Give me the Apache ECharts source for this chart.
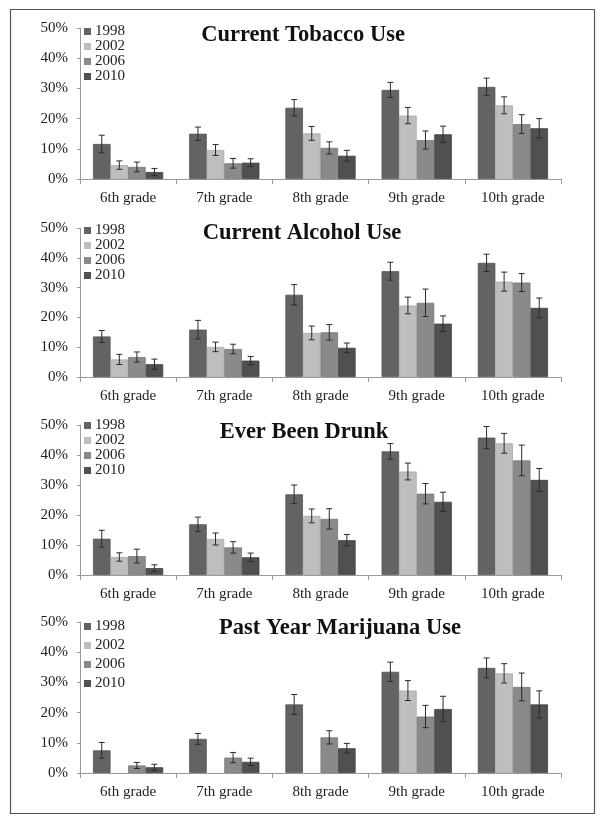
<!DOCTYPE html>
<html>
<head>
<meta charset="utf-8">
<script src="https://cdn.jsdelivr.net/npm/echarts@6/dist/echarts.min.js"></script>
<style>
html,body{margin:0;padding:0;background:#fff;}
#chart{width:601px;height:821px;}
</style>
</head>
<body>
<div id="chart"></div>
<script>
const categories = ['6th grade', '7th grade', '8th grade', '9th grade', '10th grade'];
const years = ['1998', '2002', '2006', '2010'];
const yTicks = [0, 10, 20, 30, 40, 50];
const panelTitles = ['Current Tobacco Use', 'Current Alcohol Use', 'Ever Been Drunk', 'Past Year Marijuana Use'];

const tobacco1998 = [11.6, 15.0, 23.6, 29.5, 30.5];
const tobacco2002 = [4.6, 9.6, 15.1, 21.0, 24.4];
const tobacco2006 = [4.0, 5.2, 10.3, 12.9, 18.2];
const tobacco2010 = [2.3, 5.4, 7.7, 14.8, 16.8];
const tobaccoErr1998 = [2.9, 2.2, 2.7, 2.5, 2.9];
const tobaccoErr2002 = [1.4, 1.8, 2.3, 2.7, 2.8];
const tobaccoErr2006 = [1.6, 1.6, 2.0, 3.0, 3.1];
const tobaccoErr2010 = [1.2, 1.3, 1.8, 2.7, 3.2];

const alcohol1998 = [13.6, 15.9, 27.6, 35.5, 38.3];
const alcohol2002 = [5.9, 10.1, 14.8, 24.0, 32.0];
const alcohol2006 = [6.7, 9.4, 15.0, 24.9, 31.7];
const alcohol2010 = [4.3, 5.5, 9.8, 17.9, 23.2];
const alcoholErr1998 = [2.0, 3.1, 3.4, 3.0, 2.9];
const alcoholErr2002 = [1.7, 1.6, 2.3, 2.8, 3.2];
const alcoholErr2006 = [1.7, 1.6, 2.6, 4.6, 3.0];
const alcoholErr2010 = [1.7, 1.4, 1.6, 2.6, 3.3];

const drunk1998 = [12.1, 16.9, 26.9, 41.2, 45.8];
const drunk2002 = [6.0, 12.0, 19.7, 34.5, 43.9];
const drunk2006 = [6.3, 9.2, 18.7, 27.1, 38.2];
const drunk2010 = [2.3, 5.9, 11.6, 24.4, 31.7];
const drunkErr1998 = [2.8, 2.4, 3.1, 2.6, 3.7];
const drunkErr2002 = [1.4, 2.0, 2.3, 2.8, 3.3];
const drunkErr2006 = [2.3, 1.9, 3.4, 3.4, 5.1];
const drunkErr2010 = [1.1, 1.4, 1.9, 3.2, 3.8];

const marijuana1998 = [7.5, 11.3, 22.7, 33.5, 34.8];
const marijuana2002 = [null, null, null, 27.3, 33.0];
const marijuana2006 = [2.5, 5.1, 11.8, 18.7, 28.5];
const marijuana2010 = [1.9, 3.7, 8.2, 21.2, 22.7];
const marijuanaErr1998 = [2.6, 1.8, 3.3, 3.2, 3.3];
const marijuanaErr2002 = [null, null, null, 3.3, 3.2];
const marijuanaErr2006 = [1.0, 1.7, 2.2, 3.7, 4.6];
const marijuanaErr2010 = [1.0, 1.2, 1.6, 4.2, 4.5];

const panelValues = [
  [tobacco1998, tobacco2002, tobacco2006, tobacco2010],
  [alcohol1998, alcohol2002, alcohol2006, alcohol2010],
  [drunk1998, drunk2002, drunk2006, drunk2010],
  [marijuana1998, marijuana2002, marijuana2006, marijuana2010]
];
const panelErrors = [
  [tobaccoErr1998, tobaccoErr2002, tobaccoErr2006, tobaccoErr2010],
  [alcoholErr1998, alcoholErr2002, alcoholErr2006, alcoholErr2010],
  [drunkErr1998, drunkErr2002, drunkErr2006, drunkErr2010],
  [marijuanaErr1998, marijuanaErr2002, marijuanaErr2006, marijuanaErr2010]
];

// ---- styling / layout ----
const FONT = "'Liberation Serif', 'Times New Roman', serif";
const TEXT = '#222';
const AXIS = '#9a9a9a';
const fills = ['#636363', '#bebebe', '#8a8a8a', '#505050'];
const borders = ['#555555', '#a9a9a9', '#767676', '#404040'];
const gridTops = [28, 228, 425, 622];
const gridHeights = [151, 149, 150, 151];
const titleCenters = [[303, 35], [302, 233], [304, 432], [340, 628]];
const legendTops = [24, 223, 418, 619];
const legendGaps = [0, 0, 0, 4];
const CAT_GAP = 0.27;

const chart = echarts.init(document.getElementById('chart'), null, {renderer: 'canvas'});

const grids = [], xAxes = [], yAxes = [], series = [], legends = [], graphics = [];

graphics.push({
  type: 'rect', left: 8, top: 7, z: 0,
  shape: {width: 584, height: 804},
  style: {fill: 'none', stroke: '#555', lineWidth: 1.2}
});

for (let p = 0; p < 4; p++) {
  grids.push({left: 80, right: 40, top: gridTops[p], height: gridHeights[p], containLabel: false});
  xAxes.push({
    type: 'category', gridIndex: p, data: categories,
    axisLine: {lineStyle: {color: AXIS, width: 1}},
    axisTick: {show: true, length: 5, lineStyle: {color: AXIS}},
    axisLabel: {color: TEXT, fontFamily: FONT, fontSize: 15, margin: 12}
  });
  yAxes.push({
    type: 'value', gridIndex: p, min: yTicks[0], max: yTicks[yTicks.length - 1], interval: 10,
    axisLine: {show: true, lineStyle: {color: AXIS, width: 1}},
    axisTick: {show: true, length: 3, lineStyle: {color: AXIS}},
    splitLine: {show: false},
    axisLabel: {color: TEXT, fontFamily: FONT, fontSize: 15, margin: 12, formatter: '{value}%'}
  });
  for (let k = 0; k < 4; k++) {
    series.push({
      type: 'bar', name: years[k], xAxisIndex: p, yAxisIndex: p,
      barGap: '0%', barCategoryGap: (CAT_GAP * 100) + '%',
      data: panelValues[p][k].map(v => v === null ? '-' : v),
      itemStyle: {color: fills[k], borderColor: borders[k], borderWidth: 0.8},
      emphasis: {disabled: true},
      animation: false
    });
  }
  for (let k = 0; k < 4; k++) {
    const data = [];
    panelValues[p][k].forEach((v, i) => {
      if (v !== null) data.push([i, v, panelErrors[p][k][i]]);
    });
    series.push({
      type: 'custom', name: 'err' + p + '_' + k, xAxisIndex: p, yAxisIndex: p,
      z: 5, animation: false, silent: true,
      encode: {x: 0, y: 1},
      data: data,
      renderItem: (function (kk) {
        return function (params, api) {
          const ci = api.value(0), v = api.value(1), e = api.value(2);
          const c = api.coord([ci, v]);
          const band = api.size([1, 0])[0];
          const bw = band * (1 - CAT_GAP) / 4;
          const x = c[0] + (kk - 1.5) * bw;
          const yt = api.coord([ci, v + e])[1];
          const yb = api.coord([ci, v - e])[1];
          const st = {stroke: '#2a2a2a', lineWidth: 1};
          return {
            type: 'group',
            children: [
              {type: 'line', shape: {x1: x, y1: yt, x2: x, y2: yb}, style: st},
              {type: 'line', shape: {x1: x - 3, y1: yt, x2: x + 3, y2: yt}, style: st},
              {type: 'line', shape: {x1: x - 3, y1: yb, x2: x + 3, y2: yb}, style: st}
            ]
          };
        };
      })(k)
    });
  }
  legends.push({
    data: years, orient: 'vertical', left: 84, top: legendTops[p],
    padding: 0, itemGap: legendGaps[p], itemWidth: 7, itemHeight: 7, icon: 'rect',
    selectedMode: false,
    itemStyle: {borderWidth: 0},
    textStyle: {color: TEXT, fontFamily: FONT, fontSize: 15, lineHeight: 15, padding: [0, 0, 0, -1]}
  });
  graphics.push({
    type: 'text', x: titleCenters[p][0], y: titleCenters[p][1], z: 10,
    style: {
      text: panelTitles[p], fill: '#111', font: 'bold 22.5px ' + FONT,
      textAlign: 'center', textVerticalAlign: 'middle'
    }
  });
}

chart.setOption({
  backgroundColor: '#fff',
  animation: false,
  grid: grids,
  xAxis: xAxes,
  yAxis: yAxes,
  legend: legends,
  series: series,
  graphic: graphics
});
</script>
</body>
</html>
